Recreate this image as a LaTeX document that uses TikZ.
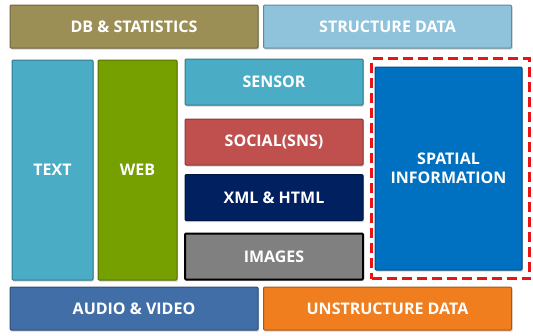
\documentclass[tikz,border=0pt]{standalone}
\usepackage{fontspec}
\setmainfont{Open Sans}
\usepackage{tikz}
\usetikzlibrary{shadows}

\definecolor{dbolive}{RGB}{156,143,86}
\definecolor{structblue}{RGB}{142,195,219}
\definecolor{textblue}{RGB}{75,172,198}
\definecolor{webgreen}{RGB}{118,160,0}
\definecolor{socialred}{RGB}{192,80,77}
\definecolor{xmlnavy}{RGB}{0,32,96}
\definecolor{imggray}{RGB}{128,128,128}
\definecolor{spatialblue}{RGB}{0,112,192}
\definecolor{audioblue}{RGB}{66,110,168}
\definecolor{unstructorange}{RGB}{240,126,30}
\definecolor{dashred}{RGB}{235,20,20}

\tikzset{
    box/.style={draw=#1!70!black, fill=#1, line width=1pt, rounded corners=1pt,
        text=white, font=\fontsize{16}{19}\selectfont\bfseries, align=center,
        inner sep=0pt, drop shadow={shadow xshift=1pt, shadow yshift=-1.5pt, opacity=0.35}},
    wide/.style={minimum width=248pt, minimum height=43pt},
    mid/.style={minimum width=178pt, minimum height=46pt}
}

\begin{document}
\begin{tikzpicture}[x=1pt,y=-1pt]
\useasboundingbox (0,0) rectangle (533,335);

% top row
\node[box=dbolive, wide] (db) at (134,26.5) {DB \& STATISTICS};
\node[box=structblue, wide] (struct) at (387.5,26.5) {STRUCTURE DATA};

% tall columns
\node[box=textblue, minimum width=81pt, minimum height=220pt] (text) at (52.5,170) {TEXT};
\node[box=webgreen, minimum width=79pt, minimum height=220pt] (web) at (137.5,170) {WEB};

% middle stack
\node[box=textblue, mid] (sensor) at (274,82) {SENSOR};
\node[box=socialred, mid] (social) at (274,142) {SOCIAL(SNS)};
\node[box=xmlnavy, mid] (xml) at (274,197.5) {XML \& HTML};
\node[box=imggray, mid, draw=black, line width=2pt] (images) at (274,256.5) {IMAGES};

% highlighted block
\node[draw=dashred, line width=3.5pt, dash pattern=on 10pt off 5pt,
    minimum width=158pt, minimum height=220pt] (mark) at (450.5,168.5) {};
\node[box=spatialblue, minimum width=147pt, minimum height=203pt] (spatial) at (448.5,168.5)
    {SPATIAL\\INFORMATION};

% bottom row
\node[box=audioblue, wide] (audio) at (134,308.5) {AUDIO \& VIDEO};
\node[box=unstructorange, wide] (unstruct) at (387.5,308.5) {UNSTRUCTURE DATA};
\end{tikzpicture}
\end{document}
